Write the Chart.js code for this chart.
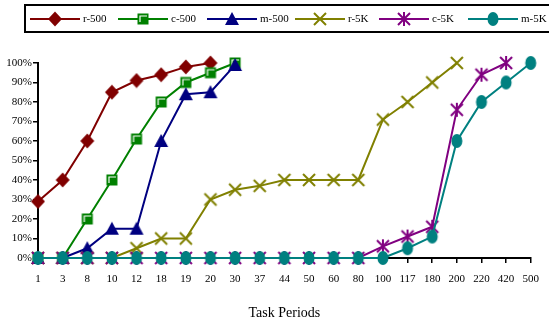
<!DOCTYPE html>
<html lang="en">
  <head>
    <meta charset="UTF-8" />
    <title>Task Periods</title>
    <script src="https://cdn.jsdelivr.net/npm/chart.js"></script>
    <style>
      body { margin: 0; background: #fff; }
    </style>
  </head>

  <body>
    <canvas id="chart" width="549" height="322"></canvas>

    <script>
      const periods = ["1", "3", "8", "10", "12", "18", "19", "20", "30", "37", "44",
        "50", "60", "80", "100", "117", "180", "200", "220", "420", "500"];

      const r500 = [29, 40, 60, 85, 91, 94, 98, 100];
      const c500 = [0, 0, 20, 40, 61, 80, 90, 95, 100];
      const m500 = [0, 0, 5, 15, 15, 60, 84, 85, 99];
      const r5K = [0, 0, 0, 0, 5, 10, 10, 30, 35, 37, 40, 40, 40, 40, 71, 80, 90, 100];
      const c5K = [0, 0, 0, 0, 0, 0, 0, 0, 0, 0, 0, 0, 0, 0, 6, 11, 16, 76, 94, 100];
      const m5K = [0, 0, 0, 0, 0, 0, 0, 0, 0, 0, 0, 0, 0, 0, 0, 5, 11, 60, 80, 90, 100];

      const seriesNames = ["r-500", "c-500", "m-500", "r-5K", "c-5K", "m-5K"];
      const seriesData = [r500, c500, m500, r5K, c5K, m5K];
      const colors = ["#800000", "#008000", "#000080", "#808000", "#800080", "#008080"];
      const shapes = ["diamond", "square", "triangle", "cross", "star", "ellipse"];

      const serif = "'Liberation Serif', 'DejaVu Serif', serif";

      // little canvases used as point styles
      function drawShape(ctx, kind, color, cx, cy) {
        ctx.fillStyle = color;
        ctx.strokeStyle = color;
        ctx.lineWidth = 2;
        ctx.beginPath();
        if (kind === "diamond") {
          ctx.moveTo(cx, cy - 7.5);
          ctx.lineTo(cx + 7, cy);
          ctx.lineTo(cx, cy + 7.5);
          ctx.lineTo(cx - 7, cy);
          ctx.closePath();
          ctx.fill();
        } else if (kind === "square") {
          ctx.fillRect(cx - 5.5, cy - 5.5, 11, 11);
          ctx.strokeStyle = "#fff";
          ctx.lineWidth = 1.2;
          ctx.moveTo(cx - 3, cy + 3);
          ctx.lineTo(cx - 3, cy - 3);
          ctx.lineTo(cx + 4, cy - 3);
          ctx.stroke();
        } else if (kind === "triangle") {
          ctx.moveTo(cx, cy - 7);
          ctx.lineTo(cx + 7, cy + 6);
          ctx.lineTo(cx - 7, cy + 6);
          ctx.closePath();
          ctx.fill();
        } else if (kind === "cross") {
          ctx.moveTo(cx - 6, cy - 6);
          ctx.lineTo(cx + 6, cy + 6);
          ctx.moveTo(cx + 6, cy - 6);
          ctx.lineTo(cx - 6, cy + 6);
          ctx.stroke();
        } else if (kind === "star") {
          ctx.moveTo(cx, cy - 7);
          ctx.lineTo(cx, cy + 7);
          ctx.moveTo(cx - 6, cy - 6);
          ctx.lineTo(cx + 6, cy + 6);
          ctx.moveTo(cx + 6, cy - 6);
          ctx.lineTo(cx - 6, cy + 6);
          ctx.stroke();
        } else {
          ctx.ellipse(cx, cy, 5.5, 7, 0, 0, Math.PI * 2);
          ctx.fill();
        }
      }

      function makeMarker(kind, color) {
        const c = document.createElement("canvas");
        c.width = 16;
        c.height = 16;
        drawShape(c.getContext("2d"), kind, color, 8, 8);
        return c;
      }

      const datasets = seriesNames.map((name, i) => ({
        label: name,
        data: seriesData[i],
        borderColor: colors[i],
        backgroundColor: colors[i],
        borderWidth: 2,
        pointStyle: makeMarker(shapes[i], colors[i]),
        pointRadius: 7,
        tension: 0,
        clip: false,
        order: seriesNames.length - i,
      }));

      // legend entries sit at these left edges inside the box
      const legendStarts = [30, 118, 207, 295, 379, 468];

      const boxedLegend = {
        id: "boxedLegend",
        afterDraw(chart) {
          const ctx = chart.ctx;
          ctx.save();
          ctx.lineWidth = 2;
          ctx.strokeStyle = "#000";
          ctx.strokeRect(25, 5, 540, 27);
          ctx.font = "11px " + serif;
          ctx.textBaseline = "middle";
          const y = 19;
          chart.data.datasets.forEach((ds, i) => {
            const x = legendStarts[i];
            ctx.strokeStyle = colors[i];
            ctx.lineWidth = 2;
            ctx.beginPath();
            ctx.moveTo(x, y);
            ctx.lineTo(x + 50, y);
            ctx.stroke();
            drawShape(ctx, shapes[i], colors[i], x + 25, y);
            ctx.fillStyle = "#000";
            ctx.fillText(ds.label, x + 53, y);
          });
          ctx.restore();
        },
      };

      new Chart(document.getElementById("chart"), {
        type: "line",
        data: { labels: periods, datasets: datasets },
        plugins: [boxedLegend],
        options: {
          responsive: false,
          animation: false,
          layout: { padding: { top: 63, left: 0, right: 17, bottom: 0 } },
          plugins: {
            legend: { display: false },
            tooltip: { enabled: false },
          },
          scales: {
            x: {
              offset: false,
              grid: { drawOnChartArea: false, color: "#000", tickLength: 5, lineWidth: 1.5 },
              border: { color: "#000", width: 2 },
              ticks: {
                autoSkip: false,
                maxRotation: 0,
                padding: 10,
                color: "#000",
                font: { family: serif, size: 11 },
              },
              title: {
                display: true,
                text: "Task Periods",
                color: "#000",
                font: { family: serif, size: 14 },
                padding: { top: 0, bottom: 0 },
              },
              afterFit: (s) => { s.height = 64; },
            },
            y: {
              min: 0,
              max: 100,
              grid: { drawOnChartArea: false, color: "#000", tickLength: 5, lineWidth: 1.5 },
              border: { color: "#000", width: 2 },
              ticks: {
                stepSize: 10,
                padding: 1,
                color: "#000",
                font: { family: serif, size: 11 },
                callback: (v) => v + "%",
              },
              afterFit: (s) => { s.width = 38; },
            },
          },
        },
      });
    </script>
  </body>
</html>
